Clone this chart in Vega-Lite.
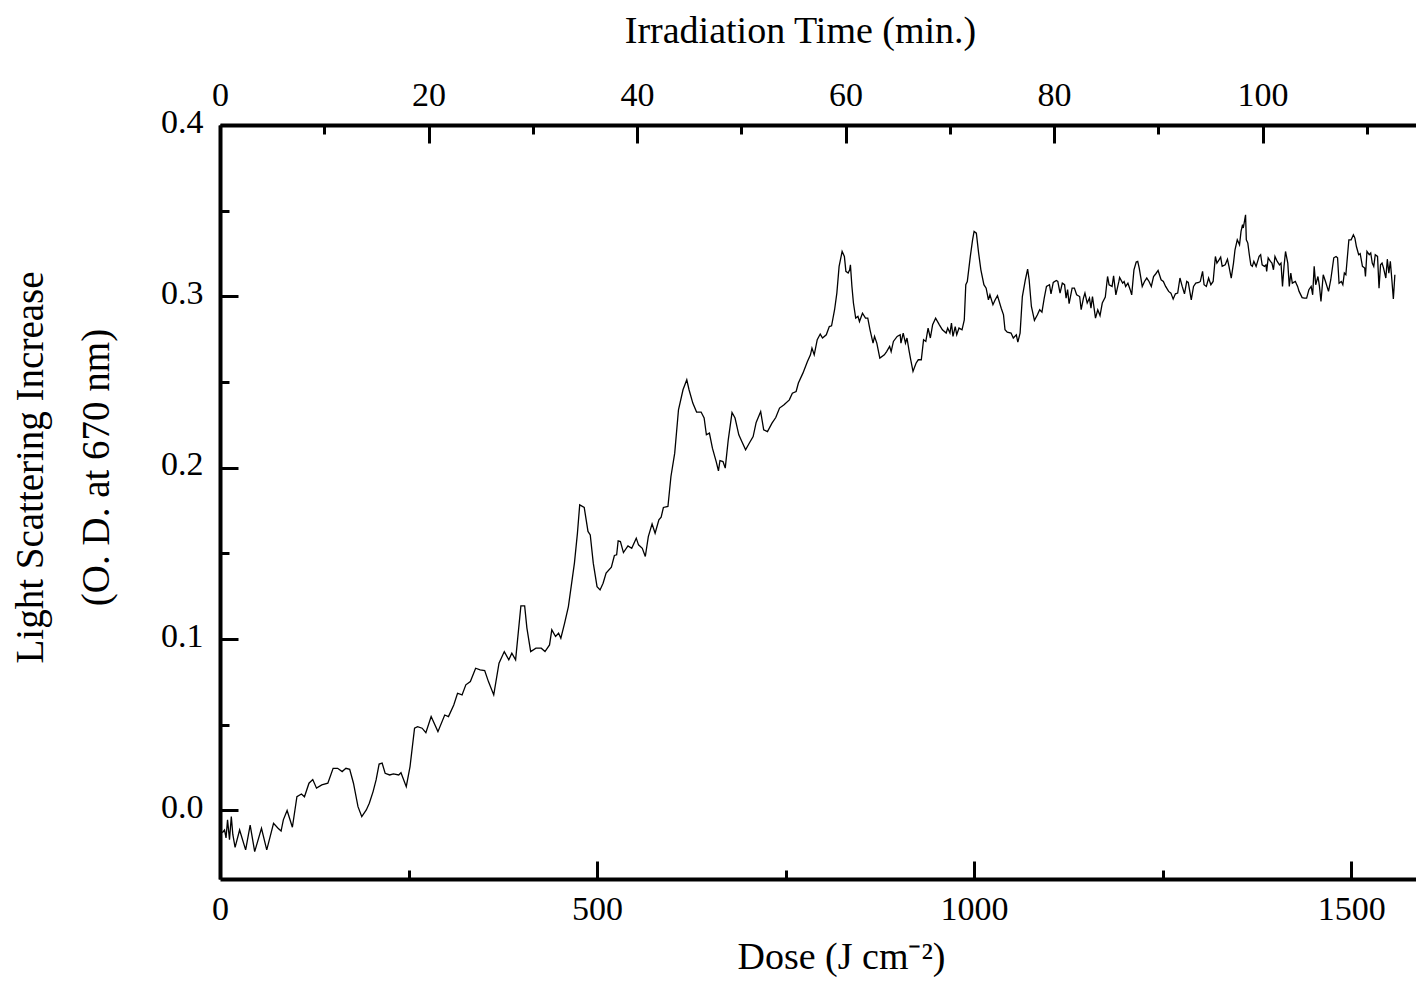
{
"$schema": "https://vega.github.io/schema/vega-lite/v6.json",
"width": 1199, "height": 754,
"autosize": {"type": "none"},
"padding": {"left": 220, "top": 125, "right": 0, "bottom": 103},
"background": "white",
"config": {"view": {"stroke": null}, "axis": {"labelFont": "Liberation Serif", "titleFont": "Liberation Serif", "labelColor": "black", "titleColor": "black", "domainColor": "black", "tickColor": "black", "domainWidth": 4, "tickWidth": 3, "grid": false, "titleFontWeight": "normal", "labelFontSize": 34, "titleFontSize": 38, "labelFlush": false, "labelOverlap": false}},
"datasets": {
"timeaxis": [{"t": 0}, {"t": 115}],
"curve": [
{"dose":3,"od":-0.013},{"dose":6,"od":-0.0114},{"dose":8,"od":-0.016},{"dose":10,"od":-0.0055},{"dose":12.6,"od":-0.017},{"dose":15,"od":-0.0036},{"dose":17,"od":-0.014},{"dose":20,"od":-0.0215},{"dose":26,"od":-0.0114},{"dose":34,"od":-0.023},{"dose":40,"od":-0.0085},{"dose":46,"od":-0.024},{"dose":55,"od":-0.0104},{"dose":62,"od":-0.023},{"dose":71,"od":-0.0075},{"dose":77,"od":-0.0104},{"dose":81,"od":-0.012},{"dose":84,"od":-0.0055},{"dose":89,"od":0.0},{"dose":96,"od":-0.0098},{"dose":102,"od":0.008},{"dose":108,"od":0.0096},{"dose":112,"od":0.008},{"dose":118,"od":0.0159},{"dose":123,"od":0.018},{"dose":128,"od":0.013},{"dose":135,"od":0.0149},{"dose":143,"od":0.0159},{"dose":150,"od":0.0246},{"dose":156,"od":0.0246},{"dose":162,"od":0.0227},{"dose":167,"od":0.0246},{"dose":172,"od":0.024},{"dose":177,"od":0.0159},{"dose":183,"od":0.0022},{"dose":188,"od":-0.0036},{"dose":194,"od":0.0003},{"dose":198,"od":0.0042},{"dose":203,"od":0.011},{"dose":207,"od":0.0178},{"dose":211,"od":0.0271},{"dose":215,"od":0.0276},{"dose":219,"od":0.0217},{"dose":225,"od":0.0207},{"dose":230,"od":0.0213},{"dose":237,"od":0.0207},{"dose":240,"od":0.022},{"dose":247,"od":0.0139},{"dose":252,"od":0.0256},{"dose":258,"od":0.048},{"dose":262,"od":0.0489},{"dose":268,"od":0.048},{"dose":273,"od":0.0454},{"dose":280,"od":0.0548},{"dose":289,"od":0.046},{"dose":298,"od":0.0557},{"dose":303,"od":0.0548},{"dose":310,"od":0.0616},{"dose":315,"od":0.0684},{"dose":321,"od":0.0674},{"dose":326,"od":0.0733},{"dose":332,"od":0.0752},{"dose":339,"od":0.083},{"dose":345,"od":0.082},{"dose":351,"od":0.0816},{"dose":356,"od":0.0752},{"dose":363,"od":0.0674},{"dose":370,"od":0.0859},{"dose":377,"od":0.0927},{"dose":383,"od":0.0879},{"dose":387,"od":0.0918},{"dose":392,"od":0.0879},{"dose":399,"od":0.1194},{"dose":404,"od":0.1194},{"dose":407,"od":0.1064},{"dose":412,"od":0.0927},{"dose":419,"od":0.0947},{"dose":426,"od":0.0947},{"dose":431,"od":0.0927},{"dose":437,"od":0.0966},{"dose":440,"od":0.1054},{"dose":445,"od":0.1015},{"dose":449,"od":0.1034},{"dose":452,"od":0.1005},{"dose":457,"od":0.1093},{"dose":462,"od":0.119},{"dose":470,"od":0.1443},{"dose":474,"od":0.1618},{"dose":477,"od":0.1783},{"dose":483,"od":0.1768},{"dose":488,"od":0.1628},{"dose":491,"od":0.1608},{"dose":495,"od":0.1443},{"dose":500,"od":0.1306},{"dose":504,"od":0.1287},{"dose":508,"od":0.1326},{"dose":512,"od":0.1385},{"dose":519,"od":0.142},{"dose":523,"od":0.1488},{"dose":526,"od":0.1492},{"dose":528,"od":0.1573},{"dose":531,"od":0.1569},{"dose":535,"od":0.1505},{"dose":541,"od":0.1544},{"dose":546,"od":0.153},{"dose":552,"od":0.1589},{"dose":555,"od":0.155},{"dose":560,"od":0.153},{"dose":564,"od":0.1482},{"dose":568,"od":0.1598},{"dose":573,"od":0.1672},{"dose":577,"od":0.1618},{"dose":582,"od":0.1696},{"dose":585,"od":0.1712},{"dose":588,"od":0.1768},{"dose":594,"od":0.1774},{"dose":598,"od":0.1949},{"dose":603,"od":0.2085},{"dose":608,"od":0.2338},{"dose":614,"od":0.2455},{"dose":619,"od":0.2513},{"dose":622,"od":0.2455},{"dose":627,"od":0.2377},{"dose":632,"od":0.2325},{"dose":638,"od":0.2325},{"dose":642,"od":0.229},{"dose":645,"od":0.2192},{"dose":649,"od":0.2202},{"dose":653,"od":0.2114},{"dose":658,"od":0.2036},{"dose":661,"od":0.1982},{"dose":663,"od":0.2042},{"dose":667,"od":0.2036},{"dose":670,"od":0.1998},{"dose":674,"od":0.2163},{"dose":679,"od":0.2322},{"dose":683,"od":0.229},{"dose":688,"od":0.2192},{"dose":692,"od":0.2153},{"dose":697,"od":0.2105},{"dose":702,"od":0.2144},{"dose":707,"od":0.2182},{"dose":711,"od":0.2264},{"dose":717,"od":0.2328},{"dose":721,"od":0.2221},{"dose":726,"od":0.2211},{"dose":732,"od":0.226},{"dose":737,"od":0.2293},{"dose":742,"od":0.2348},{"dose":748,"od":0.2367},{"dose":755,"od":0.2396},{"dose":759,"od":0.2435},{"dose":764,"od":0.2445},{"dose":767,"od":0.2494},{"dose":773,"od":0.2552},{"dose":779,"od":0.262},{"dose":783,"od":0.2659},{"dose":785,"od":0.2698},{"dose":788,"od":0.2659},{"dose":792,"od":0.2747},{"dose":796,"od":0.278},{"dose":799,"od":0.2757},{"dose":804,"od":0.2776},{"dose":808,"od":0.2824},{"dose":811,"od":0.2828},{"dose":815,"od":0.2922},{"dose":818,"od":0.3019},{"dose":821,"od":0.3175},{"dose":825,"od":0.3262},{"dose":828,"od":0.3233},{"dose":830,"od":0.3146},{"dose":833,"od":0.3136},{"dose":835,"od":0.3155},{"dose":836,"od":0.3184},{"dose":838,"od":0.3058},{"dose":840,"od":0.2961},{"dose":843,"od":0.2873},{"dose":846,"od":0.2883},{"dose":848,"od":0.2853},{"dose":852,"od":0.2902},{"dose":856,"od":0.2873},{"dose":859,"od":0.2873},{"dose":862,"od":0.2805},{"dose":866,"od":0.2727},{"dose":868,"od":0.2766},{"dose":871,"od":0.2727},{"dose":875,"od":0.264},{"dose":881,"od":0.2659},{"dose":884,"od":0.2678},{"dose":888,"od":0.2708},{"dose":890,"od":0.2678},{"dose":893,"od":0.2737},{"dose":898,"od":0.2766},{"dose":902,"od":0.2776},{"dose":903,"od":0.2727},{"dose":906,"od":0.2786},{"dose":909,"od":0.2727},{"dose":911,"od":0.2757},{"dose":914,"od":0.2678},{"dose":916,"od":0.263},{"dose":919,"od":0.2562},{"dose":923,"od":0.261},{"dose":926,"od":0.263},{"dose":930,"od":0.263},{"dose":933,"od":0.2747},{"dose":936,"od":0.2737},{"dose":939,"od":0.2815},{"dose":942,"od":0.2757},{"dose":945,"od":0.2834},{"dose":949,"od":0.2873},{"dose":954,"od":0.2834},{"dose":958,"od":0.2805},{"dose":963,"od":0.2786},{"dose":965,"od":0.2815},{"dose":968,"od":0.2786},{"dose":970,"od":0.2844},{"dose":972,"od":0.2766},{"dose":975,"od":0.2824},{"dose":977,"od":0.2776},{"dose":980,"od":0.2815},{"dose":984,"od":0.2805},{"dose":987,"od":0.2863},{"dose":989,"od":0.3068},{"dose":991,"od":0.3087},{"dose":995,"od":0.3233},{"dose":998,"od":0.333},{"dose":1000,"od":0.3379},{"dose":1003,"od":0.3369},{"dose":1006,"od":0.3253},{"dose":1009,"od":0.3155},{"dose":1013,"od":0.3068},{"dose":1016,"od":0.3048},{"dose":1019,"od":0.298},{"dose":1021,"od":0.3009},{"dose":1025,"od":0.2951},{"dose":1028,"od":0.298},{"dose":1031,"od":0.3004},{"dose":1036,"od":0.2931},{"dose":1039,"od":0.2892},{"dose":1041,"od":0.2805},{"dose":1044,"od":0.2791},{"dose":1049,"od":0.2786},{"dose":1052,"od":0.2757},{"dose":1056,"od":0.2776},{"dose":1058,"od":0.2733},{"dose":1061,"od":0.2786},{"dose":1064,"od":0.2999},{"dose":1068,"od":0.3097},{"dose":1071,"od":0.3159},{"dose":1073,"od":0.3097},{"dose":1076,"od":0.2941},{"dose":1080,"od":0.286},{"dose":1084,"od":0.2893},{"dose":1087,"od":0.2922},{"dose":1090,"od":0.2908},{"dose":1093,"od":0.299},{"dose":1096,"od":0.3058},{"dose":1100,"od":0.3068},{"dose":1102,"od":0.3015},{"dose":1105,"od":0.3081},{"dose":1109,"od":0.3093},{"dose":1111,"od":0.3087},{"dose":1114,"od":0.3019},{"dose":1117,"od":0.3077},{"dose":1120,"od":0.3068},{"dose":1122,"od":0.299},{"dose":1124,"od":0.3039},{"dose":1126,"od":0.2957},{"dose":1130,"od":0.3048},{"dose":1133,"od":0.3048},{"dose":1136,"od":0.3009},{"dose":1140,"od":0.2999},{"dose":1142,"od":0.2922},{"dose":1145,"od":0.299},{"dose":1147,"od":0.3019},{"dose":1150,"od":0.2961},{"dose":1153,"od":0.299},{"dose":1155,"od":0.2931},{"dose":1157,"od":0.2999},{"dose":1161,"od":0.2873},{"dose":1164,"od":0.2922},{"dose":1167,"od":0.2888},{"dose":1170,"od":0.2961},{"dose":1174,"od":0.2996},{"dose":1177,"od":0.3116},{"dose":1179,"od":0.3068},{"dose":1183,"od":0.3058},{"dose":1185,"od":0.312},{"dose":1188,"od":0.3009},{"dose":1192,"od":0.3087},{"dose":1193,"od":0.311},{"dose":1197,"od":0.3077},{"dose":1199,"od":0.3087},{"dose":1201,"od":0.3058},{"dose":1204,"od":0.3077},{"dose":1207,"od":0.3039},{"dose":1209,"od":0.3009},{"dose":1212,"od":0.3155},{"dose":1215,"od":0.32},{"dose":1217,"od":0.3204},{"dose":1219,"od":0.3165},{"dose":1223,"od":0.3058},{"dose":1226,"od":0.3087},{"dose":1229,"od":0.3107},{"dose":1232,"od":0.3087},{"dose":1235,"od":0.3058},{"dose":1238,"od":0.3116},{"dose":1241,"od":0.3132},{"dose":1244,"od":0.3151},{"dose":1248,"od":0.3097},{"dose":1251,"od":0.3087},{"dose":1254,"od":0.3058},{"dose":1258,"od":0.3029},{"dose":1261,"od":0.3019},{"dose":1264,"od":0.2984},{"dose":1267,"od":0.3015},{"dose":1270,"od":0.3019},{"dose":1273,"od":0.3107},{"dose":1276,"od":0.3058},{"dose":1279,"od":0.3015},{"dose":1282,"od":0.3087},{"dose":1284,"od":0.3081},{"dose":1288,"od":0.298},{"dose":1291,"od":0.3058},{"dose":1294,"od":0.3077},{"dose":1298,"od":0.3081},{"dose":1300,"od":0.3087},{"dose":1303,"od":0.3146},{"dose":1305,"od":0.3068},{"dose":1308,"od":0.3058},{"dose":1311,"od":0.3107},{"dose":1314,"od":0.3068},{"dose":1317,"od":0.3087},{"dose":1320,"od":0.3233},{"dose":1322,"od":0.3194},{"dose":1325,"od":0.3214},{"dose":1327,"od":0.3229},{"dose":1329,"od":0.3175},{"dose":1333,"od":0.3184},{"dose":1336,"od":0.3217},{"dose":1338,"od":0.3175},{"dose":1341,"od":0.3107},{"dose":1344,"od":0.3194},{"dose":1346,"od":0.3272},{"dose":1349,"od":0.333},{"dose":1352,"od":0.3301},{"dose":1354,"od":0.3379},{"dose":1356,"od":0.3418},{"dose":1357,"od":0.3399},{"dose":1360,"od":0.3476},{"dose":1361,"od":0.333},{"dose":1363,"od":0.3311},{"dose":1365,"od":0.3243},{"dose":1367,"od":0.3184},{"dose":1369,"od":0.3175},{"dose":1371,"od":0.3204},{"dose":1374,"od":0.3175},{"dose":1376,"od":0.3204},{"dose":1378,"od":0.3233},{"dose":1380,"od":0.3243},{"dose":1382,"od":0.3184},{"dose":1385,"od":0.3175},{"dose":1387,"od":0.3184},{"dose":1388,"od":0.3146},{"dose":1390,"od":0.3225},{"dose":1393,"od":0.3204},{"dose":1395,"od":0.3194},{"dose":1397,"od":0.3155},{"dose":1399,"od":0.3233},{"dose":1402,"od":0.3204},{"dose":1405,"od":0.3184},{"dose":1407,"od":0.3194},{"dose":1409,"od":0.3058},{"dose":1411,"od":0.3175},{"dose":1413,"od":0.3262},{"dose":1416,"od":0.3194},{"dose":1418,"od":0.3058},{"dose":1420,"od":0.3136},{"dose":1422,"od":0.3077},{"dose":1426,"od":0.3087},{"dose":1429,"od":0.3058},{"dose":1431,"od":0.3029},{"dose":1435,"od":0.2993},{"dose":1438,"od":0.299},{"dose":1441,"od":0.299},{"dose":1444,"od":0.3039},{"dose":1447,"od":0.3058},{"dose":1449,"od":0.3009},{"dose":1451,"od":0.3175},{"dose":1453,"od":0.3068},{"dose":1456,"od":0.3116},{"dose":1458,"od":0.3058},{"dose":1460,"od":0.2971},{"dose":1463,"od":0.3126},{"dose":1466,"od":0.3087},{"dose":1470,"od":0.3029},{"dose":1473,"od":0.3097},{"dose":1477,"od":0.3225},{"dose":1480,"od":0.3233},{"dose":1482,"od":0.3225},{"dose":1484,"od":0.3077},{"dose":1487,"od":0.3087},{"dose":1489,"od":0.3068},{"dose":1491,"od":0.3136},{"dose":1493,"od":0.3126},{"dose":1497,"od":0.333},{"dose":1500,"od":0.333},{"dose":1503,"od":0.3359},{"dose":1505,"od":0.334},{"dose":1507,"od":0.3291},{"dose":1510,"od":0.3243},{"dose":1512,"od":0.3249},{"dose":1515,"od":0.3175},{"dose":1518,"od":0.3165},{"dose":1519,"od":0.3116},{"dose":1521,"od":0.3262},{"dose":1524,"od":0.3243},{"dose":1526,"od":0.3253},{"dose":1528,"od":0.3194},{"dose":1530,"od":0.3175},{"dose":1532,"od":0.3243},{"dose":1535,"od":0.3233},{"dose":1537,"od":0.3048},{"dose":1539,"od":0.3184},{"dose":1541,"od":0.3194},{"dose":1543,"od":0.3165},{"dose":1546,"od":0.3107},{"dose":1548,"od":0.3217},{"dose":1550,"od":0.3136},{"dose":1552,"od":0.3204},{"dose":1554,"od":0.3097},{"dose":1556,"od":0.2985},{"dose":1558,"od":0.3126}
]},
"layer": [
{"data": {"name": "curve"},
 "mark": {"type": "line", "color": "black", "strokeWidth": 1.3, "clip": true},
 "encoding": {
  "x": {"field": "dose", "type": "quantitative", "scale": {"domain": [0, 1590], "nice": false, "zero": false},
        "axis": {"orient": "bottom", "title": "Dose (J cm⁻²)", "values": [0, 250, 500, 750, 1000, 1250, 1500],
                 "tickSize": {"condition": {"test": "datum.value % 500 === 0", "value": -18}, "value": -9},
                 "labelExpr": "datum.value % 500 === 0 ? format(datum.value, 'd') : ''",
                 "labelPadding": 31, "labelBaseline": "top",
                 "titleX": 621, "titleY": 89, "titleBaseline": "alphabetic", "titleAlign": "center", "titleFontSize": 38}},
  "y": {"field": "od", "type": "quantitative", "scale": {"domain": [-0.04, 0.4], "nice": false, "zero": false},
        "axis": {"orient": "left", "title": ["Light Scattering Increase", "(O. D. at 670 nm)"],
                 "values": [0, 0.05, 0.1, 0.15, 0.2, 0.25, 0.3, 0.35, 0.4],
                 "tickSize": {"condition": {"test": "round(datum.value*20) % 2 === 0", "value": -18}, "value": -9},
                 "labelExpr": "round(datum.value*20) % 2 === 0 ? format(datum.value, '.1f') : ''",
                 "labelPadding": 35, "labelOffset": -3,
                 "titleX": -178, "titleY": 342, "titleBaseline": "alphabetic", "titleAlign": "center", "titleAngle": -90, "titleFontSize": 39, "titleLineHeight": 66}}
 }},
{"data": {"name": "timeaxis"},
 "mark": {"type": "point", "opacity": 0},
 "encoding": {
  "x": {"field": "t", "type": "quantitative", "scale": {"domain": [0, 115], "nice": false, "zero": false},
        "axis": {"orient": "top", "title": "Irradiation Time (min.)", "values": [0, 10, 20, 30, 40, 50, 60, 70, 80, 90, 100, 110],
                 "tickSize": {"condition": {"test": "datum.value % 20 === 0", "value": -18}, "value": -9},
                 "labelExpr": "datum.value % 20 === 0 ? format(datum.value, 'd') : ''",
                 "labelPadding": 31,
                 "titleX": 580, "titleY": -83, "titleBaseline": "alphabetic", "titleAlign": "center", "titleFontSize": 38}}
 }}
],
"resolve": {"scale": {"x": "independent"}}
}
